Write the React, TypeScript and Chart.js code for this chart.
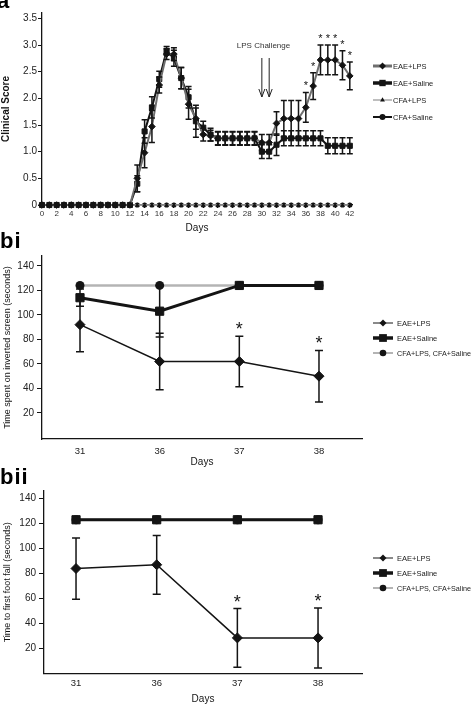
import React, { useEffect, useRef } from 'react';
import { Chart, registerables } from 'chart.js';

Chart.register(...registerables);

const FONT = '"Liberation Sans", Arial, Helvetica, sans-serif';
const INK = '#141414';

// ---------------- Panel a : clinical score ----------------
const aDays = [0, 1, 2, 3, 4, 5, 6, 7, 8, 9, 10, 11, 12, 13, 14, 15, 16, 17, 18, 19, 20, 21, 22, 23, 24, 25, 26, 27, 28, 29, 30, 31, 32, 33, 34, 35, 36, 37, 38, 39, 40, 41, 42];
const aXTicks = [0, 2, 4, 6, 8, 10, 12, 14, 16, 18, 20, 22, 24, 26, 28, 30, 32, 34, 36, 38, 40, 42];
const aYTicks = [0, 0.5, 1, 1.5, 2, 2.5, 3, 3.5];
const aEaeLps = [0, 0, 0, 0, 0, 0, 0, 0, 0, 0, 0, 0, 0, 0.5, 0.98, 1.47, 2.25, 2.83, 2.83, 2.38, 1.89, 1.62, 1.32, 1.3, 1.25, 1.25, 1.25, 1.25, 1.25, 1.25, 1.17, 1.17, 1.53, 1.62, 1.62, 1.62, 1.83, 2.23, 2.72, 2.72, 2.72, 2.62, 2.42];
const aEaeLpsErr = [0, 0, 0, 0, 0, 0, 0, 0, 0, 0, 0, 0, 0, 0.25, 0.28, 0.3, 0.15, 0.1, 0.12, 0.2, 0.28, 0.2, 0.12, 0.1, 0.12, 0.12, 0.12, 0.12, 0.12, 0.12, 0.15, 0.15, 0.22, 0.34, 0.34, 0.34, 0.28, 0.25, 0.28, 0.28, 0.28, 0.27, 0.26];
const aEaeSaline = [0, 0, 0, 0, 0, 0, 0, 0, 0, 0, 0, 0, 0, 0.4, 1.38, 1.83, 2.36, 2.89, 2.75, 2.38, 2.02, 1.57, 1.45, 1.32, 1.25, 1.25, 1.25, 1.25, 1.25, 1.25, 1.0, 1.0, 1.13, 1.25, 1.25, 1.25, 1.25, 1.25, 1.25, 1.11, 1.11, 1.11, 1.11];
const aEaeSalineErr = [0, 0, 0, 0, 0, 0, 0, 0, 0, 0, 0, 0, 0, 0.15, 0.22, 0.2, 0.15, 0.08, 0.15, 0.2, 0.2, 0.3, 0.12, 0.12, 0.13, 0.13, 0.13, 0.13, 0.13, 0.13, 0.13, 0.13, 0.2, 0.14, 0.14, 0.14, 0.14, 0.14, 0.14, 0.15, 0.15, 0.15, 0.15];
const aCfaLps = [0, 0, 0, 0, 0, 0, 0, 0, 0, 0, 0, 0, 0, 0, 0, 0, 0, 0, 0, 0, 0, 0, 0, 0, 0, 0, 0, 0, 0, 0, 0, 0, 0, 0, 0, 0, 0, 0, 0, 0, 0, 0, 0];
const aCfaSaline = [0, 0, 0, 0, 0, 0, 0, 0, 0, 0, 0, 0, 0, 0, 0, 0, 0, 0, 0, 0, 0, 0, 0, 0, 0, 0, 0, 0, 0, 0, 0, 0, 0, 0, 0, 0, 0, 0, 0, 0, 0, 0, 0];
const aStarDays = [36, 37, 38, 39, 40, 41, 42];
const aLpsDays = [30, 31];
const aLegendLabels = ['EAE+LPS', 'EAE+Saline', 'CFA+LPS', 'CFA+Saline'];

// ---------------- Panel bi / bii ----------------
const bDays = ['31', '36', '37', '38'];
const bIndex = [0, 1, 2, 3];
const bYTicks = [20, 40, 60, 80, 100, 120, 140];
const biEaeLps = [92, 62, 62, 50];
const biEaeLpsErr = [22, 23, 20.5, 21];
const biEaeSaline = [114, 103, 124, 124];
const biEaeSalineErr = [7, 21, 0, 0];
const biCfa = [124, 124, 124, 124];
const biiEaeLps = [84, 87, 28.5, 28.5];
const biiEaeLpsErr = [24.5, 23.5, 23.5, 24];
const biiEaeSaline = [123, 123, 123, 123];
const biiCfa = [123, 123, 123, 123];
const bStarIdx = [2, 3];
const bLegendLabels = ['EAE+LPS', 'EAE+Saline', 'CFA+LPS, CFA+Saline'];

Chart.defaults.font.family = FONT;

function pts(xs: number[], ys: number[]) {
  return xs.map((x, i) => ({ x, y: ys[i] }));
}

function marker(ctx: CanvasRenderingContext2D, kind: string, x: number, y: number, r: number) {
  ctx.beginPath();
  if (kind === 'rectRot') {
    ctx.moveTo(x, y - r); ctx.lineTo(x + r, y); ctx.lineTo(x, y + r); ctx.lineTo(x - r, y); ctx.closePath();
  } else if (kind === 'rect') {
    const s = r * Math.SQRT1_2;
    ctx.rect(x - s, y - s, 2 * s, 2 * s);
  } else if (kind === 'triangle') {
    ctx.moveTo(x, y - r); ctx.lineTo(x + r * 0.87, y + r * 0.5); ctx.lineTo(x - r * 0.87, y + r * 0.5); ctx.closePath();
  } else {
    ctx.arc(x, y, r, 0, Math.PI * 2);
  }
  ctx.fill();
}

function makeExtras(cfg: any) {
  return {
    id: 'extras',
    afterDatasetsDraw(chart: any) {
      const ctx = chart.ctx as CanvasRenderingContext2D;
      const xs = chart.scales.x, ys = chart.scales.y;
      ctx.save();
      for (const eb of cfg.errorBars || []) {
        const ds = chart.data.datasets[eb.ds];
        ctx.strokeStyle = INK; ctx.lineWidth = eb.width;
        ds.data.forEach((p: any, i: number) => {
          const e = eb.errs[i];
          if (!e) return;
          const x = xs.getPixelForValue(p.x);
          const y1 = ys.getPixelForValue(p.y + e);
          const y2 = ys.getPixelForValue(p.y - e);
          ctx.beginPath();
          ctx.moveTo(x, y1); ctx.lineTo(x, y2);
          ctx.moveTo(x - eb.cap, y1); ctx.lineTo(x + eb.cap, y1);
          ctx.moveTo(x - eb.cap, y2); ctx.lineTo(x + eb.cap, y2);
          ctx.stroke();
        });
      }
      if (cfg.stars) {
        const s = cfg.stars;
        const ds = chart.data.datasets[s.ds];
        ctx.fillStyle = INK; ctx.font = s.font; ctx.textAlign = 'center'; ctx.textBaseline = 'alphabetic';
        s.idx.forEach((i: number) => {
          const p = ds.data[i];
          ctx.fillText('*', xs.getPixelForValue(p.x), ys.getPixelForValue(p.y + s.errs[i]) - s.gap);
        });
      }
      ctx.restore();
    },
    afterDraw(chart: any) {
      const ctx = chart.ctx as CanvasRenderingContext2D;
      const xs = chart.scales.x;
      ctx.save();
      if (cfg.legend) {
        const L = cfg.legend;
        L.items.forEach((it: any) => {
          ctx.strokeStyle = it.color; ctx.lineWidth = it.width;
          ctx.beginPath(); ctx.moveTo(L.x0, it.y); ctx.lineTo(L.x1, it.y); ctx.stroke();
          ctx.fillStyle = INK;
          marker(ctx, it.marker, (L.x0 + L.x1) / 2, it.y, it.r);
          ctx.fillStyle = '#222'; ctx.font = L.font; ctx.textAlign = 'left'; ctx.textBaseline = 'middle';
          ctx.fillText(it.label, L.tx, it.y + 0.5, L.maxW);
        });
      }
      if (cfg.lps) {
        const A = cfg.lps;
        const px = A.days.map((d: number) => xs.getPixelForValue(d));
        ctx.fillStyle = '#333'; ctx.font = `8px ${FONT}`; ctx.textAlign = 'center'; ctx.textBaseline = 'middle';
        ctx.fillText(A.text, (px[0] + px[1]) / 2 - 2, A.textY);
        ctx.strokeStyle = '#222'; ctx.lineWidth = 1;
        px.forEach((x: number) => {
          ctx.beginPath();
          ctx.moveTo(x, A.y0); ctx.lineTo(x, A.y1);
          ctx.moveTo(x - 3, A.y1 - 8); ctx.lineTo(x, A.y1); ctx.lineTo(x + 3, A.y1 - 8);
          ctx.stroke();
        });
      }
      ctx.restore();
    },
  };
}

const axisBorder = { display: true, color: INK, width: 1.3 };

function aConfig(): any {
  return {
    type: 'line',
    data: {
      datasets: [
        { label: aLegendLabels[0], data: pts(aDays, aEaeLps), borderColor: '#6f6f6f', borderWidth: 2, pointStyle: 'rectRot', pointRadius: 3.3, pointBackgroundColor: INK, pointBorderColor: INK, pointBorderWidth: 1, clip: false },
        { label: aLegendLabels[1], data: pts(aDays, aEaeSaline), borderColor: INK, borderWidth: 2, pointStyle: 'rect', pointRadius: 3.6, pointBackgroundColor: INK, pointBorderColor: INK, pointBorderWidth: 1, clip: false },
        { label: aLegendLabels[2], data: pts(aDays, aCfaLps), borderColor: '#a8a8a8', borderWidth: 1.5, pointStyle: 'triangle', pointRadius: 2.5, pointBackgroundColor: INK, pointBorderColor: INK, pointBorderWidth: 0, clip: false },
        { label: aLegendLabels[3], data: pts(aDays, aCfaSaline), borderColor: INK, borderWidth: 1, pointStyle: 'circle', pointRadius: 2.6, pointBackgroundColor: INK, pointBorderColor: INK, pointBorderWidth: 0, clip: false },
      ],
    },
    options: {
      responsive: false, animation: false, events: [],
      layout: { padding: { top: 13, right: 121, left: 0, bottom: 0 } },
      plugins: { legend: { display: false }, tooltip: { enabled: false } },
      scales: {
        x: {
          type: 'linear', min: 0, max: 42.3,
          afterBuildTicks: (s: any) => { s.ticks = aXTicks.map((v) => ({ value: v })); },
          afterFit: (s: any) => { s.height = 29; },
          border: axisBorder,
          grid: { display: true, drawOnChartArea: false, drawTicks: true, tickLength: 3, color: INK },
          ticks: { font: { size: 8 }, color: '#333', padding: 1, maxRotation: 0, autoSkip: false },
          title: { display: true, text: 'Days', font: { size: 10 }, color: INK, padding: { top: 0, bottom: 0 } },
        },
        y: {
          type: 'linear', min: 0, max: 3.6,
          afterBuildTicks: (s: any) => { s.ticks = aYTicks.map((v) => ({ value: v })); },
          afterFit: (s: any) => { s.width = 42; },
          border: axisBorder,
          grid: { display: true, drawOnChartArea: false, drawTicks: true, tickLength: 4, color: INK },
          ticks: { font: { size: 10 }, color: '#222', padding: 1, callback: (v: number) => (v === 0 ? '0' : v.toFixed(1)) },
          title: { display: true, text: 'Clinical Score', font: { size: 10, weight: 'bold' }, color: INK, padding: { top: 0, bottom: 0 } },
        },
      },
    },
    plugins: [makeExtras({
      errorBars: [
        { ds: 1, errs: aEaeSalineErr, width: 1.5, cap: 3 },
        { ds: 0, errs: aEaeLpsErr, width: 1.5, cap: 3 },
      ],
      stars: { ds: 0, idx: aStarDays.map((d) => aDays.indexOf(d)), errs: aEaeLpsErr, font: `11px ${FONT}`, gap: 3 },
      lps: { days: aLpsDays, text: 'LPS Challenge', textY: 46, y0: 58, y1: 97 },
      legend: {
        x0: 373, x1: 392, tx: 393, font: `7.5px ${FONT}`, maxW: 78,
        items: [
          { y: 66, label: aLegendLabels[0], color: '#6f6f6f', width: 3, marker: 'rectRot', r: 3.5 },
          { y: 83, label: aLegendLabels[1], color: INK, width: 3.5, marker: 'rect', r: 4.5 },
          { y: 100, label: aLegendLabels[2], color: '#a8a8a8', width: 1.5, marker: 'triangle', r: 2.8 },
          { y: 117, label: aLegendLabels[3], color: INK, width: 2, marker: 'circle', r: 3 },
        ],
      },
    })],
  };
}

function bConfig(eaeLps: number[], eaeLpsErr: number[], eaeSaline: number[], eaeSalineErr: number[], cfa: number[], yTitle: string, geo: any): any {
  return {
    type: 'line',
    data: {
      datasets: [
        { label: bLegendLabels[0], data: pts(bIndex, eaeLps), borderColor: INK, borderWidth: 1.5, pointStyle: 'rectRot', pointRadius: 5, pointBackgroundColor: INK, pointBorderColor: INK, pointBorderWidth: 1, clip: false },
        { label: bLegendLabels[1], data: pts(bIndex, eaeSaline), borderColor: INK, borderWidth: 3, pointStyle: 'rect', pointRadius: 5.8, pointBackgroundColor: INK, pointBorderColor: INK, pointBorderWidth: 1, clip: false },
        { label: bLegendLabels[2], data: pts(bIndex, cfa), borderColor: '#b4b4b4', borderWidth: 2.5, pointStyle: 'circle', pointRadius: 4.5, pointBackgroundColor: INK, pointBorderColor: INK, pointBorderWidth: 0, clip: false },
      ],
    },
    options: {
      responsive: false, animation: false, events: [],
      layout: { padding: { top: geo.top, right: 111, left: 0, bottom: 0 } },
      plugins: { legend: { display: false }, tooltip: { enabled: false } },
      scales: {
        x: {
          type: 'linear', min: geo.xmin, max: geo.xmax,
          afterBuildTicks: (s: any) => { s.ticks = bIndex.map((v) => ({ value: v })); },
          afterFit: (s: any) => { s.height = geo.xh; },
          border: axisBorder,
          grid: { display: false, drawOnChartArea: false, drawTicks: false },
          ticks: { font: { size: 9.5 }, color: '#222', padding: geo.xpad, maxRotation: 0, autoSkip: false, callback: (v: number) => bDays[v] },
          title: { display: true, text: 'Days', font: { size: 10 }, color: INK, padding: { top: 0, bottom: 0 } },
        },
        y: {
          type: 'linear', min: geo.ymin, max: geo.ymax,
          afterBuildTicks: (s: any) => { s.ticks = bYTicks.map((v) => ({ value: v })); },
          afterFit: (s: any) => { s.width = geo.yw; },
          border: axisBorder,
          grid: { display: true, drawOnChartArea: false, drawTicks: true, tickLength: 5, color: INK },
          ticks: { font: { size: 10 }, color: '#222', padding: 3 },
          title: { display: true, text: yTitle, font: { size: 9 }, color: INK, padding: { top: 2, bottom: 0 } },
        },
      },
    },
    plugins: [makeExtras({
      errorBars: [
        { ds: 1, errs: eaeSalineErr, width: 1.5, cap: 4 },
        { ds: 0, errs: eaeLpsErr, width: 1.5, cap: 4 },
      ],
      stars: { ds: 0, idx: bStarIdx, errs: eaeLpsErr, font: `18px ${FONT}`, gap: 1 },
      legend: {
        x0: 373, x1: 393, tx: 397, font: `7.5px ${FONT}`, maxW: 74,
        items: [
          { y: geo.ly, label: bLegendLabels[0], color: INK, width: 1, marker: 'rectRot', r: 3.5 },
          { y: geo.ly + 15, label: bLegendLabels[1], color: INK, width: 3.5, marker: 'rect', r: 5.5 },
          { y: geo.ly + 30, label: bLegendLabels[2], color: '#b4b4b4', width: 2, marker: 'circle', r: 3.3 },
        ],
      },
    })],
  };
}

function ChartCanvas({ top, height, make }: { top: number; height: number; make: () => any }) {
  const ref = useRef<HTMLCanvasElement | null>(null);
  useEffect(() => {
    if (!ref.current) return;
    const chart = new Chart(ref.current, make());
    return () => chart.destroy();
  }, []);
  return <canvas ref={ref} width={473} height={height} style={{ position: 'absolute', left: 0, top, width: 473, height }} />;
}

const labelStyle: any = { position: 'absolute', fontFamily: FONT, fontWeight: 'bold', fontSize: 22, lineHeight: '22px', color: '#000', letterSpacing: 1 };

export default function App() {
  return (
    <div style={{ position: 'fixed', left: 0, top: 0, width: 473, height: 705, background: '#fff', overflow: 'hidden' }}>
      <ChartCanvas top={0} height={234} make={aConfig} />
      <ChartCanvas top={232} height={236} make={() => bConfig(biEaeLps, biEaeLpsErr, biEaeSaline, biEaeSalineErr, biCfa, 'Time spent on inverted screen (seconds)', { top: 24, xh: 29, yw: 42, xmin: -0.477, xmax: 3.54, ymin: -1.2, ymax: 148, xpad: 7, ly: 91 })} />
      <ChartCanvas top={468} height={237} make={() => bConfig(biiEaeLps, biiEaeLpsErr, biiEaeSaline, [0, 0, 0, 0], biiCfa, 'Time to first foot fall (seconds)', { top: 23, xh: 31.5, yw: 44, xmin: -0.397, xmax: 3.545, ymin: 0, ymax: 146, xpad: 4.5, ly: 90 })} />
      <div style={{ ...labelStyle, left: -3, top: -10 }}>a</div>
      <div style={{ ...labelStyle, left: 0, top: 230 }}>bi</div>
      <div style={{ ...labelStyle, left: 0, top: 466 }}>bii</div>
    </div>
  );
}
